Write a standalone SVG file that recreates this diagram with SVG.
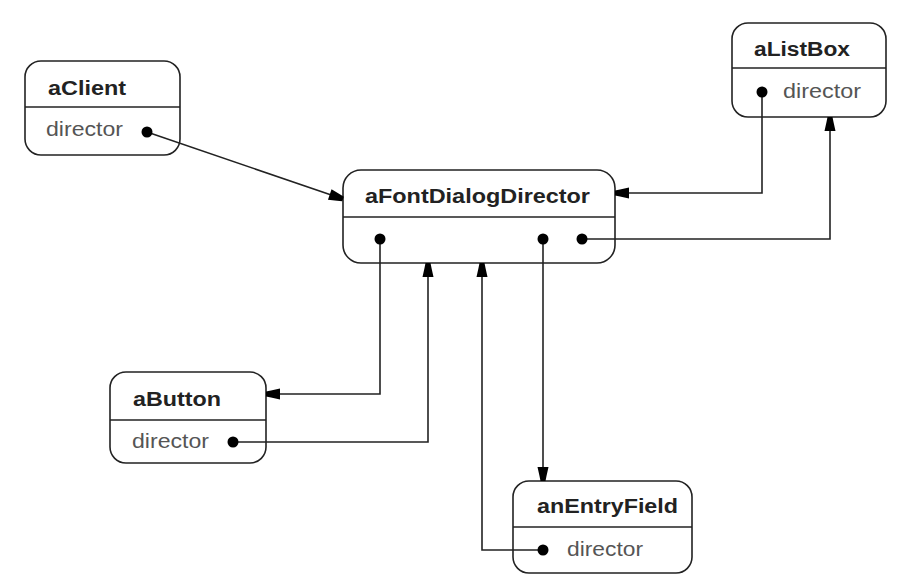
<svg xmlns="http://www.w3.org/2000/svg" width="898" height="588" viewBox="0 0 898 588">
<style>
.box{fill:#fff;stroke:#222;stroke-width:1.6}
.div{stroke:#222;stroke-width:1.6}
.title{font-family:"Liberation Sans",Arial,sans-serif;font-weight:bold;font-size:20px;fill:#222}
.attr{font-family:"Liberation Sans",Arial,sans-serif;font-size:20px;fill:#555}
.dot{fill:#000}
.conn{fill:none;stroke:#222;stroke-width:1.6}
</style>
<defs>
<marker id="arr" markerUnits="userSpaceOnUse" markerWidth="16" markerHeight="14" refX="15" refY="7" orient="auto" viewBox="0 0 16 14">
<path d="M1,1.5 L10,3.5 L15,4.5 L15,9.5 L10,10.5 L1,12.5 Z" fill="#000"/>
</marker>
</defs>
<rect width="898" height="588" fill="#fff"/>
<g id="aClient">
<rect class="box" x="25" y="61" width="155" height="94" rx="16"/>
<line class="div" x1="25" y1="107" x2="180" y2="107"/>
<text class="title" x="48" y="95" textLength="78" lengthAdjust="spacingAndGlyphs">aClient</text>
<text class="attr" x="46" y="136" textLength="77" lengthAdjust="spacingAndGlyphs">director</text>
</g>
<g id="aFontDialogDirector">
<rect class="box" x="343" y="170" width="272" height="93" rx="18"/>
<line class="div" x1="343" y1="217" x2="615" y2="217"/>
<text class="title" x="365" y="203" textLength="225" lengthAdjust="spacingAndGlyphs">aFontDialogDirector</text>
</g>
<g id="aListBox">
<rect class="box" x="732" y="23" width="154" height="94" rx="16"/>
<line class="div" x1="732" y1="68" x2="886" y2="68"/>
<text class="title" x="754" y="56" textLength="96" lengthAdjust="spacingAndGlyphs">aListBox</text>
<text class="attr" x="783" y="98" textLength="78" lengthAdjust="spacingAndGlyphs">director</text>
</g>
<g id="aButton">
<rect class="box" x="110" y="372" width="156" height="91" rx="16"/>
<line class="div" x1="110" y1="420" x2="266" y2="420"/>
<text class="title" x="133" y="406" textLength="88" lengthAdjust="spacingAndGlyphs">aButton</text>
<text class="attr" x="132" y="448" textLength="77" lengthAdjust="spacingAndGlyphs">director</text>
</g>
<g id="anEntryField">
<rect class="box" x="513" y="481" width="179" height="92" rx="16"/>
<line class="div" x1="513" y1="527" x2="692" y2="527"/>
<text class="title" x="537" y="513" textLength="141" lengthAdjust="spacingAndGlyphs">anEntryField</text>
<text class="attr" x="567" y="556" textLength="76" lengthAdjust="spacingAndGlyphs">director</text>
</g>
<g id="connectors">
<path class="conn" d="M147,132 L343,199" marker-end="url(#arr)"/>
<path class="conn" d="M762,92 L762,193 L615,193" marker-end="url(#arr)"/>
<path class="conn" d="M582,239 L830,239 L830,117" marker-end="url(#arr)"/>
<path class="conn" d="M380,239 L380,394 L266,394" marker-end="url(#arr)"/>
<path class="conn" d="M233,442 L428,442 L428,263" marker-end="url(#arr)"/>
<path class="conn" d="M543,239 L543,481" marker-end="url(#arr)"/>
<path class="conn" d="M543,550 L482,550 L482,263" marker-end="url(#arr)"/>
<circle class="dot" cx="147" cy="132" r="5.5"/>
<circle class="dot" cx="762" cy="92" r="5.5"/>
<circle class="dot" cx="380" cy="239" r="5.5"/>
<circle class="dot" cx="543" cy="239" r="5.5"/>
<circle class="dot" cx="582" cy="239" r="5.5"/>
<circle class="dot" cx="233" cy="442" r="5.5"/>
<circle class="dot" cx="543" cy="550" r="5.5"/>
</g>
</svg>
